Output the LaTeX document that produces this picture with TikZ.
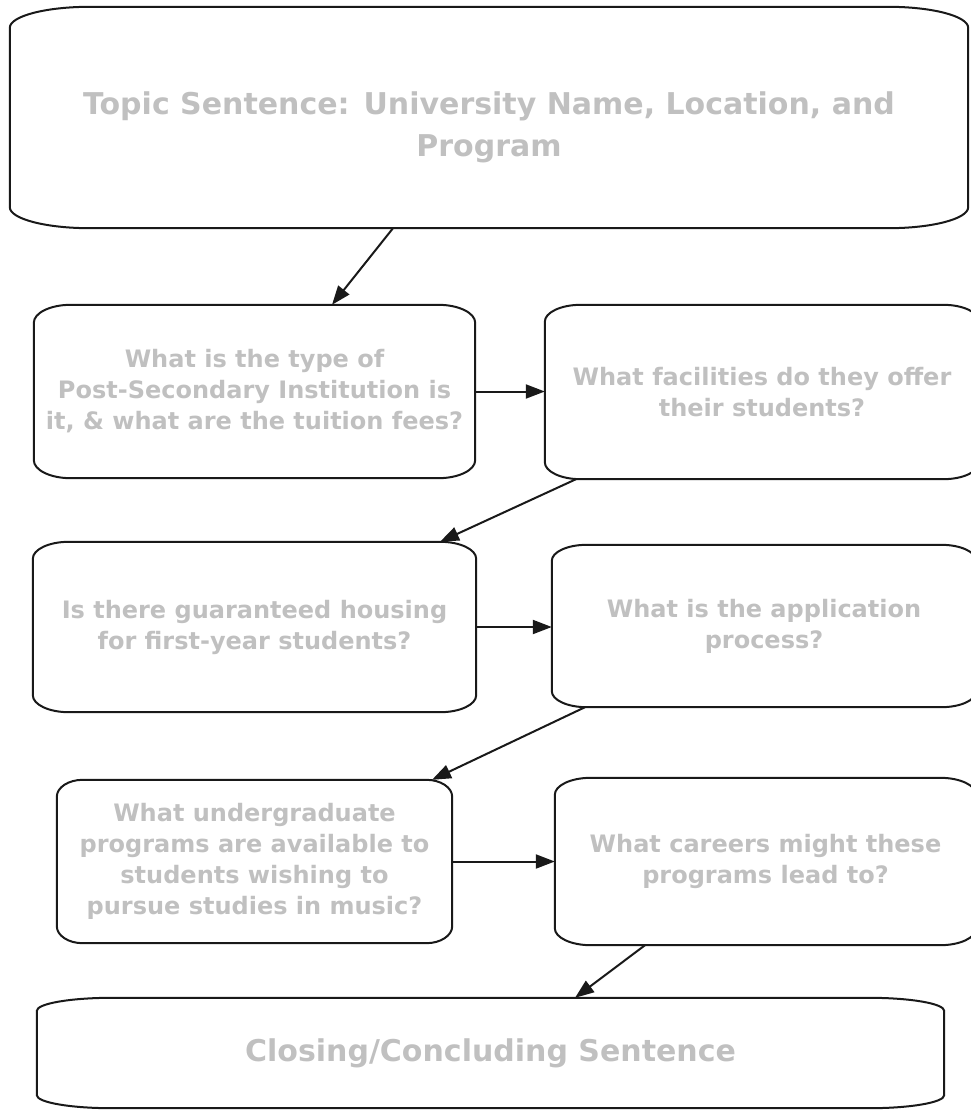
\documentclass[tikz,border=0pt]{standalone}
\usepackage{fontspec}
\setmainfont{DejaVu Sans}
\usetikzlibrary{arrows.meta}
\definecolor{labelgray}{RGB}{192,192,192}
\definecolor{linegray}{RGB}{25,25,25}

\newcommand{\capsule}[3]{%
	\draw[frame] ([xshift=#2]#1.north west) -- ([xshift=-#2]#1.north east)
		arc[start angle=90, end angle=0, x radius=#2, y radius=#3]
		-- ([yshift=#3]#1.south east)
		arc[start angle=0, end angle=-90, x radius=#2, y radius=#3]
		-- ([xshift=#2]#1.south west)
		arc[start angle=270, end angle=180, x radius=#2, y radius=#3]
		-- ([yshift=-#3]#1.north west)
		arc[start angle=180, end angle=90, x radius=#2, y radius=#3]
		-- cycle;}

\begin{document}
\begin{tikzpicture}
			[x=1pt, y=-1pt,
			box/.style={rectangle, inner sep=0pt, align=center,
				text=labelgray, font=\bfseries\fontsize{24}{31}\selectfont},
			bigbox/.style={box, font=\bfseries\fontsize{30}{42}\selectfont},
			frame/.style={draw=linegray, line width=2pt},
			link/.style={draw=linegray, line width=2pt,
				-{Triangle[length=19pt, width=14pt]}}]
			\useasboundingbox (0,0) rectangle (970,1110);
			% boxes
			\node[bigbox, minimum width=958pt, minimum height=221pt] (topic) at (489,117.5)
				{\rule{0pt}{42pt}Topic Sentence: University Name, Location, and\\Program};
			\node[box, minimum width=441pt, minimum height=173pt] (kind) at (254.5,391.5)
				{What is the type of\\Post-Secondary Institution is\\it, \& what are the tuition fees?};
			\node[box, minimum width=434pt, minimum height=174pt] (facil) at (762,392)
				{What facilities do they offer\\their students?};
			\node[box, minimum width=443pt, minimum height=170pt] (housing) at (254.5,627)
				{Is there guaranteed housing\\for first-year students?};
			\node[box, minimum width=424pt, minimum height=162pt] (apply) at (764,626)
				{What is the application\\process?};
			\node[box, minimum width=395pt, minimum height=163pt] (music) at (254.5,861.5)
				{What undergraduate\\programs are available to\\students wishing to\\pursue studies in music?};
			\node[box, minimum width=421pt, minimum height=167pt] (career) at (765.5,861.5)
				{What careers might these\\programs lead to?};
			\node[bigbox, minimum width=907pt, minimum height=110pt] (closing) at (490.5,1053)
				{Closing/Concluding Sentence};
			% frames
			\capsule{topic}{80pt}{21pt}
			\capsule{kind}{37pt}{18pt}
			\capsule{facil}{36pt}{17pt}
			\capsule{housing}{36pt}{17pt}
			\capsule{apply}{35pt}{16pt}
			\capsule{music}{26pt}{17pt}
			\capsule{career}{36pt}{17pt}
			\capsule{closing}{75pt}{13pt}
			% links
			\draw[link] ([xshift=-96pt]topic.south) -- ([xshift=77.5pt]kind.north);
			\draw[link] (kind.east) -- (kind.east -| facil.west);
			\draw[link] ([xshift=-186pt]facil.south) -- ([xshift=185.5pt]housing.north);
			\draw[link] (housing.east) -- (housing.east -| apply.west);
			\draw[link] ([xshift=-179pt]apply.south) -- ([xshift=177.5pt]music.north);
			\draw[link] (music.east) -- (music.east -| career.west);
			\draw[link] ([xshift=-120.5pt]career.south) -- ([xshift=84.5pt]closing.north);
\end{tikzpicture}
\end{document}
